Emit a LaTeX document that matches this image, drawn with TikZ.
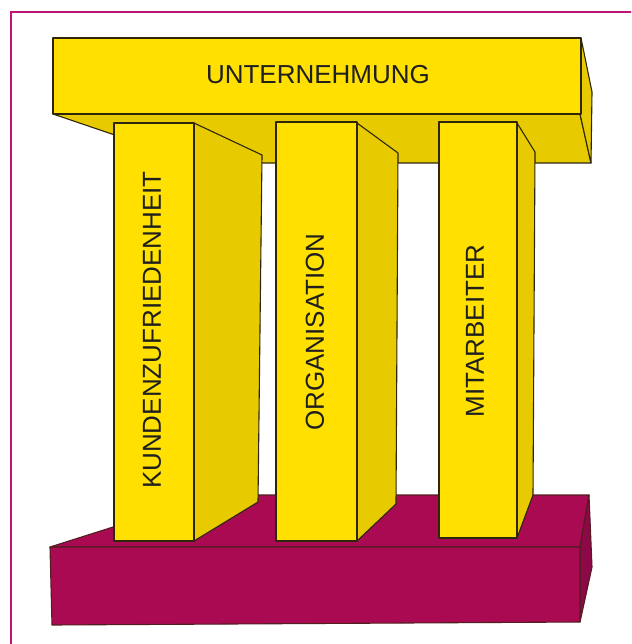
\documentclass[tikz,border=0pt]{standalone}
\usepackage{fontspec}
\setmainfont{Liberation Sans}

\definecolor{beamyellow}{RGB}{255,224,0}
\definecolor{shadeyellow}{RGB}{232,202,0}
\definecolor{baseberry}{RGB}{170,10,82}
\definecolor{basedark}{RGB}{140,8,70}
\definecolor{framepink}{RGB}{190,20,120}
\definecolor{edgedark}{RGB}{45,38,10}

\begin{document}
\begin{tikzpicture}[x=1pt, y=-1pt,
    front/.style={fill=beamyellow, draw=edgedark, line width=1.1pt, line join=round},
    side/.style={fill=shadeyellow, draw=edgedark, line width=1.1pt, line join=round},
    basefront/.style={fill=baseberry, draw=edgedark!70!baseberry, line width=1.1pt, line join=round},
    baseside/.style={fill=basedark, draw=edgedark!70!baseberry, line width=1.1pt, line join=round},
    word/.style={font=\fontsize{26}{30}\selectfont, text=black!88, inner sep=0pt},
    ]

\useasboundingbox (0,0) rectangle (631,644);
\clip (0,0) rectangle (631,644);

% Frame
\draw[framepink, line width=2.5pt] (11,12) rectangle (660,680);

% Top beam
\draw[side] (53,114) -- (580,114) -- (591,163) -- (197,163) -- cycle;
\draw[side] (581,38) -- (592,92) -- (591,163) -- (580,114) -- cycle;
\draw[front] (53,38) rectangle (581,114);
\node[word] (top) at (318,75) {UNTERNEHMUNG};

% Base
\draw[basefront] (50,547) -- (214,495) -- (589,495) -- (580,547) -- cycle;
\draw[baseside] (580,547) -- (589,495) -- (592,567) -- (580,622) -- cycle;
\draw[basefront] (50,547) -- (580,547) -- (580,622) -- (52,625) -- cycle;

% First pillar
\draw[side] (194,123) -- (262,155) -- (258,502) -- (194,541) -- cycle;
\draw[front] (114,123) rectangle (194,541);
\node[word, rotate=90] (p1) at (152,330) {KUNDENZUFRIEDENHEIT};

% Second pillar
\draw[side] (357,123) -- (398,153) -- (396,504) -- (357,541) -- cycle;
\draw[front] (276,122) rectangle (357,541);
\node[word, rotate=90] (p2) at (315,332) {ORGANISATION};

% Third pillar
\draw[side] (517,123) -- (535,152) -- (533,495) -- (517,538) -- cycle;
\draw[front] (439,122) rectangle (517,538);
\node[word, rotate=90] (p3) at (475,331) {MITARBEITER};

\end{tikzpicture}
\end{document}
